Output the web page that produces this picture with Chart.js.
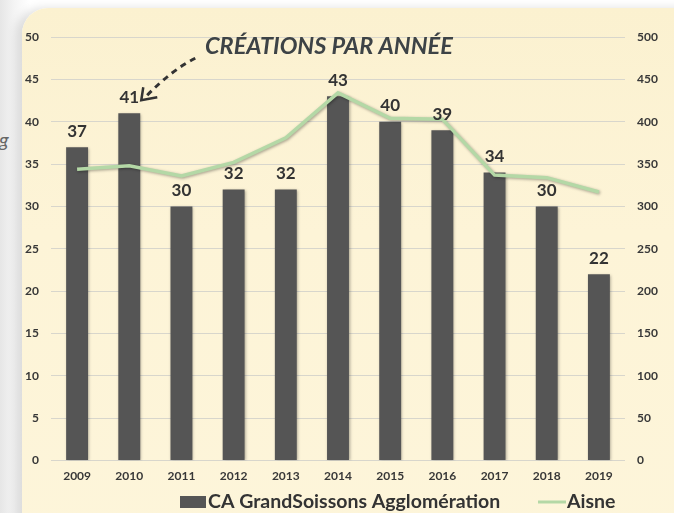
<!DOCTYPE html>
<html><head><meta charset="utf-8">
<script src="https://cdn.jsdelivr.net/npm/chart.js@4.4.0/dist/chart.umd.min.js"></script>
<style>
html,body{margin:0;padding:0;}
body{width:674px;height:513px;overflow:hidden;background:linear-gradient(90deg,#e6e6e6 0px,#f4f4f4 14px,#ffffff 30px);position:relative;font-family:Lato,sans-serif;}
#panel{position:absolute;left:22px;top:8px;width:700px;height:560px;border-top-left-radius:26px;background:linear-gradient(180deg,#fbf1d0 0%,#fdf4d7 40%,#fdf5da 100%);box-shadow:-6px 0 10px rgba(0,0,0,0.12);}
#frag{position:absolute;left:-1px;top:127px;font:italic 20px Lato,sans-serif;color:#666;}
#wrap{position:absolute;left:0;top:0;width:674px;height:513px;}
</style></head>
<body>
<div id="frag">g</div>
<div id="panel"></div>
<div id="wrap"><canvas id="c" width="674" height="513"></canvas></div>
<script>
const years = ['2009','2010','2011','2012','2013','2014','2015','2016','2017','2018','2019'];
const grandSoissons = [37,41,30,32,32,43,40,39,34,30,22];
const aisne = [344,348,336,352,381,434,404,403,337,334,317];
const leftTicks = [0,5,10,15,20,25,30,35,40,45,50];
const rightTicks = [0,50,100,150,200,250,300,350,400,450,500];
const seriesNames = ['CA GrandSoissons Agglomération','Aisne'];
const titleText = 'CRÉATIONS PAR ANNÉE';

const BAR = '#555555', LINE = '#b4d8a6', TXT = '#333333';

const decor = {
  id:'decor',
  beforeDatasetDraw(chart, args){
    const ctx = chart.ctx; ctx.save();
    ctx.shadowColor = 'rgba(0,0,0,0.35)'; ctx.shadowBlur = 3; ctx.shadowOffsetX = 1; ctx.shadowOffsetY = 1;
  },
  afterDatasetDraw(chart){ chart.ctx.restore(); },
  afterDraw(chart){
    const ctx = chart.ctx, a = chart.chartArea;
    const meta = chart.getDatasetMeta(1);
    ctx.save();
    // value labels
    ctx.fillStyle = TXT; ctx.font = 'bold 17px Lato'; ctx.textAlign = 'center'; ctx.textBaseline = 'middle';
    meta.data.forEach((b,i)=>{ ctx.fillText(String(grandSoissons[i]), b.x, b.y - 16); });
    // title
    ctx.font = 'italic bold 23.5px Lato'; ctx.textAlign = 'left'; ctx.textBaseline = 'alphabetic';
    ctx.fillStyle = '#3d4346';
    ctx.fillText(titleText, a.left + 154, a.top + 17);
    // arrow to 2010 label
    const b = meta.data[1];
    const tx = b.x + 12, ty = b.y - 13, sx = b.x + 66, sy = b.y - 55;
    ctx.strokeStyle = '#333'; ctx.lineWidth = 3; ctx.setLineDash([6,5]);
    ctx.beginPath(); ctx.moveTo(sx, sy); ctx.quadraticCurveTo(tx+30, sy+12, tx+4, ty-3); ctx.stroke();
    ctx.setLineDash([]); ctx.lineWidth = 2.5;
    ctx.beginPath(); ctx.moveTo(tx+2, ty-13); ctx.lineTo(tx, ty); ctx.lineTo(tx+16, ty-3); ctx.stroke();
    // legend
    const ly = 502;
    ctx.font = 'bold 19.5px Lato'; ctx.textBaseline = 'middle';
    ctx.fillStyle = BAR; ctx.fillRect(180, ly-6, 26, 12);
    ctx.fillStyle = TXT; ctx.fillText(seriesNames[0], 208, ly);
    ctx.strokeStyle = LINE; ctx.lineWidth = 3;
    ctx.beginPath(); ctx.moveTo(538, ly); ctx.lineTo(566, ly); ctx.stroke();
    ctx.fillStyle = TXT; ctx.fillText(seriesNames[1], 567, ly);
    ctx.restore();
  }
};

new Chart(document.getElementById('c'), {
  type:'bar',
  data:{
    labels: years,
    datasets:[
      {type:'line', label:seriesNames[1], data:aisne, yAxisID:'y1', borderColor:LINE, borderWidth:3.5, pointRadius:0, tension:0, order:0},
      {type:'bar', label:seriesNames[0], data:grandSoissons, yAxisID:'y', backgroundColor:BAR, categoryPercentage:1, barPercentage:0.42, order:1}
    ]
  },
  options:{
    responsive:false, animation:false, devicePixelRatio:1,
    layout:{padding:{top:37, left:0, right:0, bottom:22}},
    plugins:{legend:{display:false}, tooltip:{enabled:false}, title:{display:false}},
    scales:{
      x:{grid:{display:false, drawTicks:false}, border:{display:false},
         ticks:{color:'#383838', font:{family:'Lato', size:12, weight:'bold'}, padding:8}},
      y:{position:'left', min:0, max:50, afterBuildTicks(s){ s.ticks = leftTicks.map(v=>({value:v})); },
         afterFit(s){ s.width = 51; },
         grid:{color:'#d8d6cc', lineWidth:1, drawTicks:false}, border:{display:false},
         ticks:{color:'#383838', font:{family:'Lato', size:12, weight:'bold'}, padding:12}},
      y1:{position:'right', min:0, max:500, afterBuildTicks(s){ s.ticks = rightTicks.map(v=>({value:v})); },
         afterFit(s){ s.width = 49; },
         grid:{display:false, drawTicks:false}, border:{display:false},
         ticks:{color:'#383838', font:{family:'Lato', size:12, weight:'bold'}, padding:12}}
    }
  },
  plugins:[decor]
});
</script>
</body></html>
